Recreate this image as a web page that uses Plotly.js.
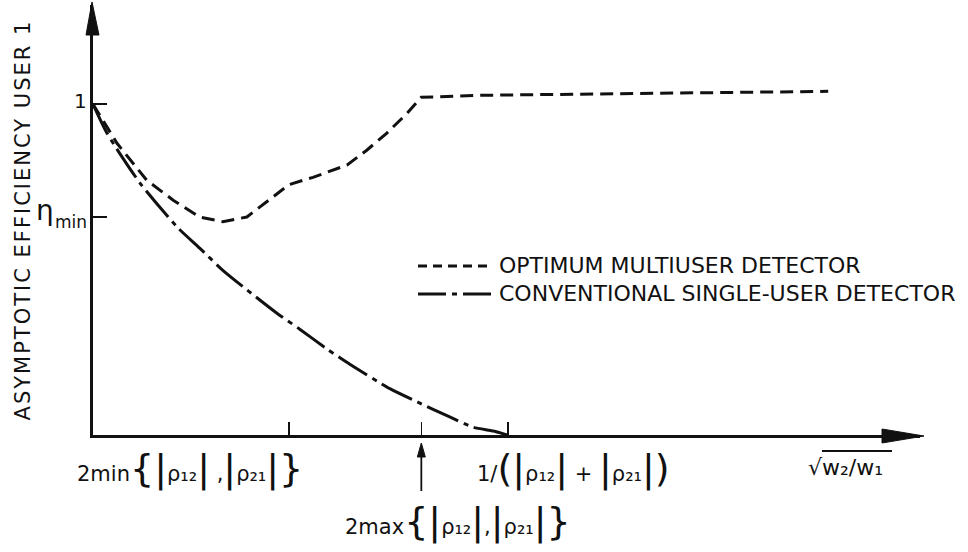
<!DOCTYPE html>
<html>
<head>
<meta charset="utf-8">
<script src="https://cdn.plot.ly/plotly-3.0.1.min.js"></script>
<style>
  html, body { margin: 0; padding: 0; background: #ffffff; }
  #chart { width: 968px; height: 552px; }
  #chart .ytitle { letter-spacing: 2px; }
</style>
</head>
<body>
<div id="chart"></div>
<script>
// Normalised abscissa: sqrt(w2/w1) in arbitrary units
const optimumX = [0, 0.29, 0.65, 0.97, 1.29, 1.57, 1.86, 2.37, 2.66, 3.07, 3.31, 3.55, 3.80, 3.97, 4.68, 8.89];
const optimumY = [1.0, 0.882, 0.770, 0.710, 0.659, 0.645, 0.659, 0.757, 0.779, 0.816, 0.861, 0.912, 0.973, 1.021, 1.027, 1.039];

const conventionalX = [0, 0.17, 0.57, 1.02, 1.29, 1.57, 2.22, 2.50, 2.83, 3.11, 3.59, 3.92, 4.32, 4.59, 4.84, 5.01];
const conventionalY = [1.0, 0.912, 0.761, 0.628, 0.565, 0.498, 0.369, 0.320, 0.260, 0.213, 0.140, 0.100, 0.054, 0.024, 0.012, 0.0];

// Marked abscissa values: 2min{...}, 2max{...}, 1/(|p12|+|p21|)
const xTickVals = [2.37, 3.97, 5.02];
// Marked efficiency values: eta_min and 1
const etaMin = 0.66;
const yTickVals = [etaMin, 1.0];

const seriesNames = ['OPTIMUM MULTIUSER DETECTOR', 'CONVENTIONAL SINGLE-USER DETECTOR'];

const FONT = 'DejaVu Sans, Liberation Sans, sans-serif';
const INK = '#111111';

const traces = [
  {
    x: optimumX, y: optimumY, type: 'scatter', mode: 'lines', name: seriesNames[0],
    line: { color: INK, width: 3, dash: '13px,7px' }, showlegend: false, hoverinfo: 'skip'
  },
  {
    x: conventionalX, y: conventionalY, type: 'scatter', mode: 'lines', name: seriesNames[1],
    line: { color: INK, width: 3, dash: '34px,6px,5px,6px', shape: 'spline', smoothing: 0.6 },
    showlegend: false, hoverinfo: 'skip'
  }
];

// tall delimiters around the coefficient expressions
const big = s => '<span style="font-size:38px">' + s + '</span>';
const absRho = sub => big('|') + 'ρ' + sub + big('|');

const px = p => (p - 93) / 827;      // horizontal pixel -> paper
const py = p => (435 - p) / 430;     // vertical pixel -> paper

const annotations = [
  // vertical-axis marks: 1 and eta_min
  {
    xref: 'paper', yref: 'y', x: px(89), y: 1.0, xanchor: 'right', yanchor: 'middle', yshift: 3,
    text: '1', showarrow: false, font: { family: FONT, size: 20, color: INK }
  },
  {
    xref: 'paper', yref: 'y', x: px(56), y: etaMin, xanchor: 'right', yanchor: 'middle', yshift: 6,
    text: 'η', showarrow: false, font: { family: FONT, size: 28, color: INK }
  },
  {
    xref: 'paper', yref: 'y', x: px(53), y: etaMin, xanchor: 'left', yanchor: 'middle', yshift: -5,
    text: 'min', showarrow: false, font: { family: FONT, size: 17, color: INK }
  },
  // horizontal-axis marks
  {
    xref: 'paper', yref: 'paper', x: px(75), y: py(468), xanchor: 'left', yanchor: 'middle',
    text: '2min' + big('{') + absRho('₁₂') + ' ,' + absRho('₂₁') + big('}'),
    showarrow: false, font: { family: FONT, size: 21, color: INK }
  },
  {
    xref: 'paper', yref: 'paper', x: px(343), y: py(521), xanchor: 'left', yanchor: 'middle',
    text: '2max' + big('{') + absRho('₁₂') + ',' + absRho('₂₁') + big('}'),
    showarrow: false, font: { family: FONT, size: 21, color: INK }
  },
  {
    xref: 'paper', yref: 'paper', x: px(475), y: py(468), xanchor: 'left', yanchor: 'middle',
    text: '1/' + big('(') + absRho('₁₂') + ' + ' + absRho('₂₁') + big(')'),
    showarrow: false, font: { family: FONT, size: 21, color: INK }
  },
  {
    xref: 'paper', yref: 'paper', x: px(806), y: py(467), xanchor: 'left', yanchor: 'middle',
    text: '√w₂/w₁',
    showarrow: false, font: { family: FONT, size: 22, color: INK }
  },
  // legend text
  {
    xref: 'paper', yref: 'paper', x: px(497), y: py(265), xanchor: 'left', yanchor: 'middle',
    text: seriesNames[0], showarrow: false, font: { family: FONT, size: 22, color: INK }
  },
  {
    xref: 'paper', yref: 'paper', x: px(497), y: py(293), xanchor: 'left', yanchor: 'middle',
    text: seriesNames[1], showarrow: false, font: { family: FONT, size: 22, color: INK }
  }
];

const shapes = [
  // arrowhead of the horizontal axis
  {
    type: 'path', xref: 'paper', yref: 'paper', xsizemode: 'pixel', ysizemode: 'pixel',
    xanchor: 1, yanchor: 0, path: 'M 4,-1 L -38,6 L -38,-8 Z',
    fillcolor: INK, line: { color: INK, width: 1 }
  },
  // arrowhead of the vertical axis
  {
    type: 'path', xref: 'paper', yref: 'paper', xsizemode: 'pixel', ysizemode: 'pixel',
    xanchor: 0, yanchor: 1, path: 'M -1,3 L -7,-30 L 6,-30 Z',
    fillcolor: INK, line: { color: INK, width: 1 }
  },
  // pointer from the 2max label up to its tick
  {
    type: 'line', xref: 'x', yref: 'paper', ysizemode: 'pixel', yanchor: 0,
    x0: xTickVals[1], x1: xTickVals[1], y0: -20, y1: -56,
    line: { color: INK, width: 1.8 }
  },
  {
    type: 'path', xref: 'x', yref: 'paper', xsizemode: 'pixel', ysizemode: 'pixel',
    xanchor: xTickVals[1], yanchor: 0, path: 'M 0,-8 L -4,-22 L 4,-22 Z',
    fillcolor: INK, line: { color: INK, width: 1 }
  },
  // legend keys
  {
    type: 'line', xref: 'paper', yref: 'paper',
    x0: px(418), x1: px(492), y0: py(266), y1: py(266),
    line: { color: INK, width: 2.8, dash: '9px,6px' }
  },
  {
    type: 'line', xref: 'paper', yref: 'paper',
    x0: px(418), x1: px(492), y0: py(294), y1: py(294),
    line: { color: INK, width: 3, dash: '28px,6px,5px,6px' }
  },
  // radical bar over w2/w1
  {
    type: 'line', xref: 'paper', yref: 'paper',
    x0: px(822), x1: px(892), y0: py(451), y1: py(451),
    line: { color: INK, width: 1.8 }
  }
];

const layout = {
  width: 968, height: 552,
  margin: { l: 93, r: 48, t: 5, b: 117 },
  paper_bgcolor: '#ffffff', plot_bgcolor: '#ffffff',
  showlegend: false,
  font: { family: FONT, color: INK },
  xaxis: {
    range: [0, 10], showgrid: false, zeroline: false,
    showline: true, linecolor: INK, linewidth: 3,
    ticks: 'inside', ticklen: 13, tickwidth: 1.6, tickcolor: INK,
    tickvals: xTickVals, showticklabels: false, fixedrange: true
  },
  yaxis: {
    range: [0, 1.3], showgrid: false, zeroline: false,
    showline: true, linecolor: INK, linewidth: 3,
    ticks: 'inside', ticklen: 14, tickwidth: 2, tickcolor: INK,
    tickvals: yTickVals, showticklabels: false,
    title: {
      text: 'ASYMPTOTIC EFFICIENCY USER 1', standoff: 54,
      font: { family: FONT, size: 21, color: INK }
    },
    fixedrange: true
  },
  annotations: annotations,
  shapes: shapes
};

Plotly.newPlot('chart', traces, layout, { staticPlot: true });
</script>
</body>
</html>
